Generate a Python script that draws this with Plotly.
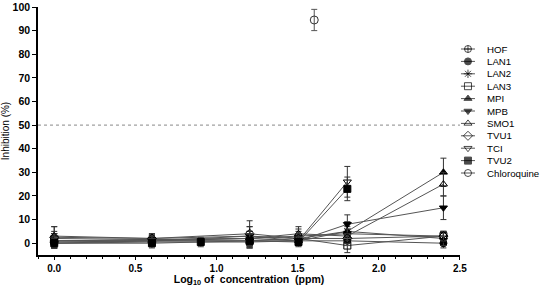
import plotly.graph_objects as go

x_full = [0.0, 0.602, 1.204, 1.505, 1.806, 2.398]
x_short = [0.0, 0.602, 1.204, 1.505, 1.806]
x_tvu2 = [0.0, 0.602, 0.903, 1.204, 1.505, 1.806]

hof = [2.0, 1.5, 2.0, 3.0, 4.0, 3.0]
hof_err = [3, 2, 3, 3, 3, 2]
lan1 = [0.0, 0.5, 0.5, 1.0, 1.0, 0.0]
lan1_err = [2, 2, 2, 2, 2, 2]
lan2 = [3.0, 2.0, 3.0, 2.0, 5.0, 2.0]
lan2_err = [4, 2, 4, 3, 4, 3]
lan3 = [1.0, 1.0, 1.0, 2.0, -1.0, 3.0]
lan3_err = [2, 2, 3, 2, 3, 2]
mpi = [1.0, 1.0, 2.0, 1.0, 5.0, 30.0]
mpi_err = [3, 2, 3, 2, 4, 6]
mpb = [0.5, 1.0, 3.0, 1.0, 8.0, 15.0]
mpb_err = [2, 2, 4, 2, 4, 5]
smo1 = [1.0, 1.5, 2.0, 4.0, 3.0, 25.0]
smo1_err = [3, 2, 3, 3, 3, 5]
tvu1 = [2.5, 2.0, 4.0, 2.0, 2.0, 3.0]
tvu1_err = [4.5, 2, 5.5, 2, 2, 2]
tci = [0.0, 1.0, 1.0, 1.0, 26.0]
tci_err = [2, 2, 3, 2, 6.5]
tvu2 = [0.0, 0.0, 0.5, 1.0, 0.5, 23.0]
tvu2_err = [2, 2, 2, 3, 2, 5]
chl_x = [1.602]
chl = [94.5]
chl_err = [4.5]
threshold = 50
x_ticks = [0.0, 0.5, 1.0, 1.5, 2.0, 2.5]
x_ticklabels = ["0.0", "0.5", "1.0", "1.5", "2.0", "2.5"]
y_ticks = list(range(0, 101, 10))

series = [
    ("HOF", x_full, hof, hof_err, "circle-cross-open"),
    ("LAN1", x_full, lan1, lan1_err, "circle"),
    ("LAN2", x_full, lan2, lan2_err, "asterisk-open"),
    ("LAN3", x_full, lan3, lan3_err, "square-open"),
    ("MPI", x_full, mpi, mpi_err, "triangle-up"),
    ("MPB", x_full, mpb, mpb_err, "triangle-down"),
    ("SMO1", x_full, smo1, smo1_err, "triangle-up-open"),
    ("TVU1", x_full, tvu1, tvu1_err, "diamond-open"),
    ("TCI", x_short, tci, tci_err, "triangle-down-open"),
    ("TVU2", x_tvu2, tvu2, tvu2_err, "square"),
]

fig = go.Figure()
for name, xs, ys, es, sym in series:
    fig.add_trace(go.Scatter(
        x=xs, y=ys, name=name, mode="lines+markers", showlegend=False,
        line=dict(color="#555555", width=1),
        marker=dict(symbol=sym, size=7, color="black", line=dict(color="black", width=1)),
        error_y=dict(type="data", array=es, color="#333333", thickness=1, width=3),
    ))
fig.add_trace(go.Scatter(
    x=chl_x, y=chl, name="Chloroquine", mode="markers", showlegend=False,
    marker=dict(symbol="circle-open", size=8, color="#333333", line=dict(width=1)),
    error_y=dict(type="data", array=chl_err, color="#555555", thickness=1, width=3),
))

fig.add_shape(type="line", xref="x", yref="y", x0=-0.1, x1=2.5, y0=threshold, y1=threshold,
              line=dict(color="#888888", width=1, dash="dot"))

# compact legend drawn in a hidden pixel-unit axis on the right
legend_items = [(n, s) for n, _, _, _, s in series] + [("Chloroquine", "circle-open")]
row0, step = 49, 12.4
for i, (name, sym) in enumerate(legend_items):
    ry = row0 + i * step
    fig.add_trace(go.Scatter(
        x=[461, 468, 475], y=[ry, ry, ry], mode="lines+markers", showlegend=False,
        xaxis="x2", yaxis="y2", hoverinfo="skip",
        line=dict(color="#555555", width=1),
        marker=dict(symbol=sym, size=[0, 7, 0], color="black", line=dict(color="black", width=1)),
    ))
    fig.add_annotation(x=485, y=ry, xref="x2", yref="y2", text=name, showarrow=False,
                       xanchor="left", yanchor="middle",
                       font=dict(size=9.7, color="black", family="Liberation Sans, Arial"))

fig.update_layout(
    width=540, height=287,
    margin=dict(l=38, r=0, t=7, b=32),
    paper_bgcolor="white", plot_bgcolor="white",
    font=dict(family="Liberation Sans, Arial", color="black", size=10),
    showlegend=False,
    xaxis=dict(
        domain=[0, 0.8406], automargin=False,
        range=[-0.1, 2.5], tickvals=x_ticks,
        ticktext=["<b>%s</b>" % t for t in x_ticklabels],
        showline=True, linecolor="black", linewidth=1.5, ticks="outside", ticklen=3,
        tickcolor="black", showgrid=False, zeroline=False,
        minor=dict(dtick=0.1, tick0=0, ticks="outside", ticklen=2, tickcolor="black"),
        title=dict(text="<b>Log<sub>10</sub> of  concentration  (ppm)</b>", font=dict(size=10.5), standoff=3),
        tickfont=dict(size=10),
    ),
    yaxis=dict(
        automargin=False,
        range=[-5, 100], tickvals=y_ticks,
        ticktext=["<b>%d</b>" % v for v in y_ticks],
        showline=True, linecolor="black", linewidth=1.5, ticks="outside", ticklen=4,
        tickcolor="black", showgrid=False, zeroline=False,
        title=dict(text="Inhibition (%)", font=dict(size=10), standoff=2),
        tickfont=dict(size=10.5),
    ),
    xaxis2=dict(domain=[0.8406, 1.0], range=[460, 540], visible=False, anchor="y2"),
    yaxis2=dict(domain=[0, 1], range=[255, 7], visible=False, anchor="x2"),
)

fig.write_html("out.html", config={"displayModeBar": False},
               post_script="document.body.style.margin='0';")
